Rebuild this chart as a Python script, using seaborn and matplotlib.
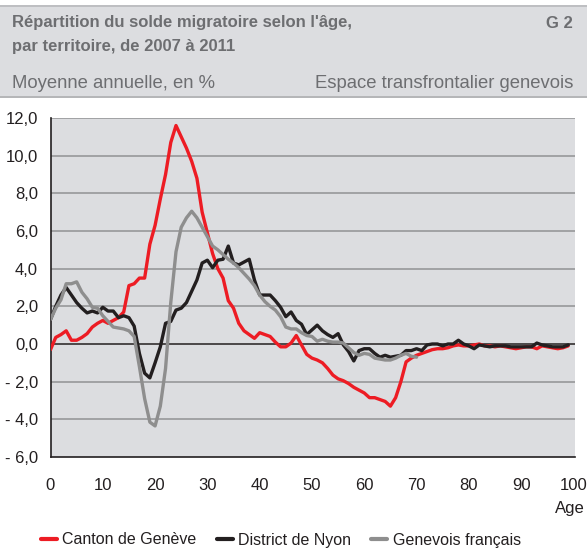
import numpy as np
import pandas as pd
import matplotlib
matplotlib.use("Agg")
import matplotlib.pyplot as plt
import seaborn as sns
from matplotlib.lines import Line2D

# ---- data ----
ages_full = list(range(0, 100))
ages_gf = list(range(0, 71))

canton_geneve = [
    -0.3, 0.35, 0.5, 0.7, 0.2, 0.2, 0.35, 0.55, 0.9, 1.1,
    1.25, 1.1, 1.25, 1.4, 1.7, 3.1, 3.2, 3.5, 3.5, 5.3,
    6.3, 7.7, 9.0, 10.7, 11.6, 11.0, 10.4, 9.7, 8.8, 7.0,
    5.9, 4.8, 4.0, 3.5, 2.3, 1.9, 1.1, 0.7, 0.5, 0.3,
    0.6, 0.5, 0.4, 0.1, -0.15, -0.15, 0.05, 0.45, -0.05, -0.55,
    -0.75, -0.85, -1.0, -1.3, -1.65, -1.85, -1.95, -2.1, -2.3, -2.45,
    -2.6, -2.85, -2.85, -2.95, -3.05, -3.3, -2.85, -2.0, -0.95, -0.75,
    -0.6, -0.5, -0.4, -0.3, -0.25, -0.25, -0.2, -0.1, -0.05, -0.1,
    -0.1, -0.05, 0.0, -0.1, -0.1, -0.15, -0.1, -0.15, -0.2, -0.25,
    -0.2, -0.15, -0.15, -0.25, -0.1, -0.15, -0.2, -0.25, -0.2, -0.1,
]

district_nyon = [
    1.3, 2.0, 2.6, 3.0, 2.6, 2.2, 1.9, 1.65, 1.75, 1.65,
    1.95, 1.75, 1.75, 1.4, 1.5, 1.4, 0.95, -0.5, -1.55, -1.8,
    -1.0, -0.15, 1.1, 1.2, 1.8, 1.9, 2.2, 2.8, 3.4, 4.3,
    4.45, 4.05, 4.45, 4.5, 5.2, 4.3, 4.2, 4.35, 4.5, 3.4,
    2.6, 2.6, 2.6, 2.3, 1.95, 1.45, 1.7, 1.25, 1.05, 0.5,
    0.75, 1.0, 0.7, 0.5, 0.35, 0.55, -0.05, -0.4, -0.9, -0.35,
    -0.25, -0.25, -0.5, -0.7, -0.6, -0.7, -0.65, -0.6, -0.35, -0.35,
    -0.25, -0.35, -0.05, 0.0, 0.0, -0.1, 0.0, 0.0, 0.2, 0.0,
    -0.1, -0.25, -0.05, -0.1, -0.15, -0.1, -0.1, -0.1, -0.15, -0.15,
    -0.15, -0.15, -0.15, 0.05, -0.05, -0.1, -0.15, -0.15, -0.15, -0.05,
]

genevois_francais = [
    1.3, 1.9, 2.35, 3.2, 3.2, 3.3, 2.75, 2.4, 1.95, 1.9,
    1.5, 1.2, 0.9, 0.85, 0.8, 0.7, 0.4, -1.2, -2.9, -4.15,
    -4.35, -3.3, -1.3, 2.2, 4.9, 6.2, 6.7, 7.05, 6.7, 6.2,
    5.7, 5.2, 5.0, 4.75, 4.5, 4.3, 4.05, 3.75, 3.45, 3.1,
    2.6, 2.25, 2.0, 1.8, 1.45, 0.9, 0.8, 0.8, 0.6, 0.45,
    0.4, 0.15, 0.25, 0.15, 0.1, 0.1, 0.05, -0.2, -0.45, -0.6,
    -0.5, -0.55, -0.75, -0.8, -0.85, -0.85, -0.75, -0.6, -0.5, -0.65,
    -0.7,
]

series_names = ["Canton de Genève", "District de Nyon", "Genevois français"]
y_ticks = [-6, -4, -2, 0, 2, 4, 6, 8, 10, 12]
x_ticks = [0, 10, 20, 30, 40, 50, 60, 70, 80, 90, 100]

title_lines = ["Répartition du solde migratoire selon l'âge,",
               "par territoire, de 2007 à 2011"]
chart_id = "G 2"
subtitle_left = "Moyenne annuelle, en %"
subtitle_right = "Espace transfrontalier genevois"
x_label = "Age"

# ---- build long table ----
df = pd.concat([
    pd.DataFrame({"age": ages_full, "val": canton_geneve, "serie": series_names[0]}),
    pd.DataFrame({"age": ages_full, "val": district_nyon, "serie": series_names[1]}),
    pd.DataFrame({"age": ages_gf, "val": genevois_francais, "serie": series_names[2]}),
], ignore_index=True)

colors = {series_names[0]: "#ed1c24", series_names[1]: "#231f20", series_names[2]: "#8e8e8e"}

sns.set_style("white")
plt.rcParams["font.family"] = ["Liberation Sans", "DejaVu Sans"]

W, H = 587, 551
fig = plt.figure(figsize=(W / 100, H / 100), dpi=100)
bg = "#dcdde0"
txt_gray = "#6d6e71"
dark = "#231f20"

# header band
hdr = fig.add_axes([0, 1 - 96 / H, 1, 91 / H])
hdr.set_xlim(0, 1); hdr.set_ylim(0, 1)
hdr.set_facecolor(bg)
for s in hdr.spines.values():
    s.set_visible(False)
hdr.set_xticks([]); hdr.set_yticks([])
fig.add_artist(Line2D([0, 1], [1 - 5.5 / H] * 2, color="#b9babc", lw=1.2))
fig.add_artist(Line2D([0, 1], [1 - 96.5 / H] * 2, color="#a7a8aa", lw=1.2))

fig.text(12 / W, 1 - 23 / H, title_lines[0], fontsize=12, fontweight="bold",
         color=txt_gray, va="center", ha="left")
fig.text(12 / W, 1 - 46 / H, title_lines[1], fontsize=12, fontweight="bold",
         color=txt_gray, va="center", ha="left")
fig.text(573 / W, 1 - 23 / H, chart_id, fontsize=12, fontweight="bold",
         color=txt_gray, va="center", ha="right")
fig.text(12 / W, 1 - 83 / H, subtitle_left, fontsize=13.3, color=txt_gray,
         va="center", ha="left")
fig.text(573 / W, 1 - 83 / H, subtitle_right, fontsize=13.3, color=txt_gray,
         va="center", ha="right")

# main axes
left, right, top, bottom = 50.5, 575, 118, 457
ax = fig.add_axes([left / W, 1 - bottom / H, (right - left) / W, (bottom - top) / H])
ax.set_facecolor(bg)

for yv in y_ticks:
    if yv in (0, -6):
        continue
    ax.axhline(yv, color="#9c9d9f", lw=1.3, zorder=1)
ax.axhline(0, color=dark, lw=1.1, zorder=2)

sns.lineplot(data=df, x="age", y="val", hue="serie", palette=colors,
             hue_order=series_names, lw=2.4, ax=ax, legend=False, zorder=3)

ax.set_xlim(0, 100.3)
ax.set_ylim(-6, 12)
ax.set_yticks(y_ticks)
ax.set_yticklabels([f"{v:.1f}".replace(".", ",").replace("-", "- ") for v in y_ticks])
ax.set_xticks(x_ticks)
ax.set_xticklabels([str(v) for v in x_ticks])
ax.set_xlabel(""); ax.set_ylabel("")
ax.tick_params(axis="both", direction="out", length=5, width=1.2, color=dark,
               labelsize=12, labelcolor=dark)
ax.tick_params(axis="y", pad=4)
ax.tick_params(axis="x", pad=10)
for side in ("top", "right"):
    ax.spines[side].set_visible(False)
for side in ("left", "bottom"):
    ax.spines[side].set_color(dark)
    ax.spines[side].set_linewidth(1.2)

fig.text(585 / W, 1 - 508 / H, x_label, fontsize=12, color=dark, va="center", ha="right")

handles = [Line2D([], [], color=colors[n], lw=3) for n in series_names]
fig.legend(handles, series_names, loc="center left", bbox_to_anchor=(36 / W, 1 - 540 / H),
           ncol=3, frameon=False, fontsize=11.5, handlelength=1.0, handletextpad=0.35,
           columnspacing=1.25, labelcolor=dark, borderaxespad=0, borderpad=0.3)

fig.savefig("out.png", dpi=100, facecolor="white")
